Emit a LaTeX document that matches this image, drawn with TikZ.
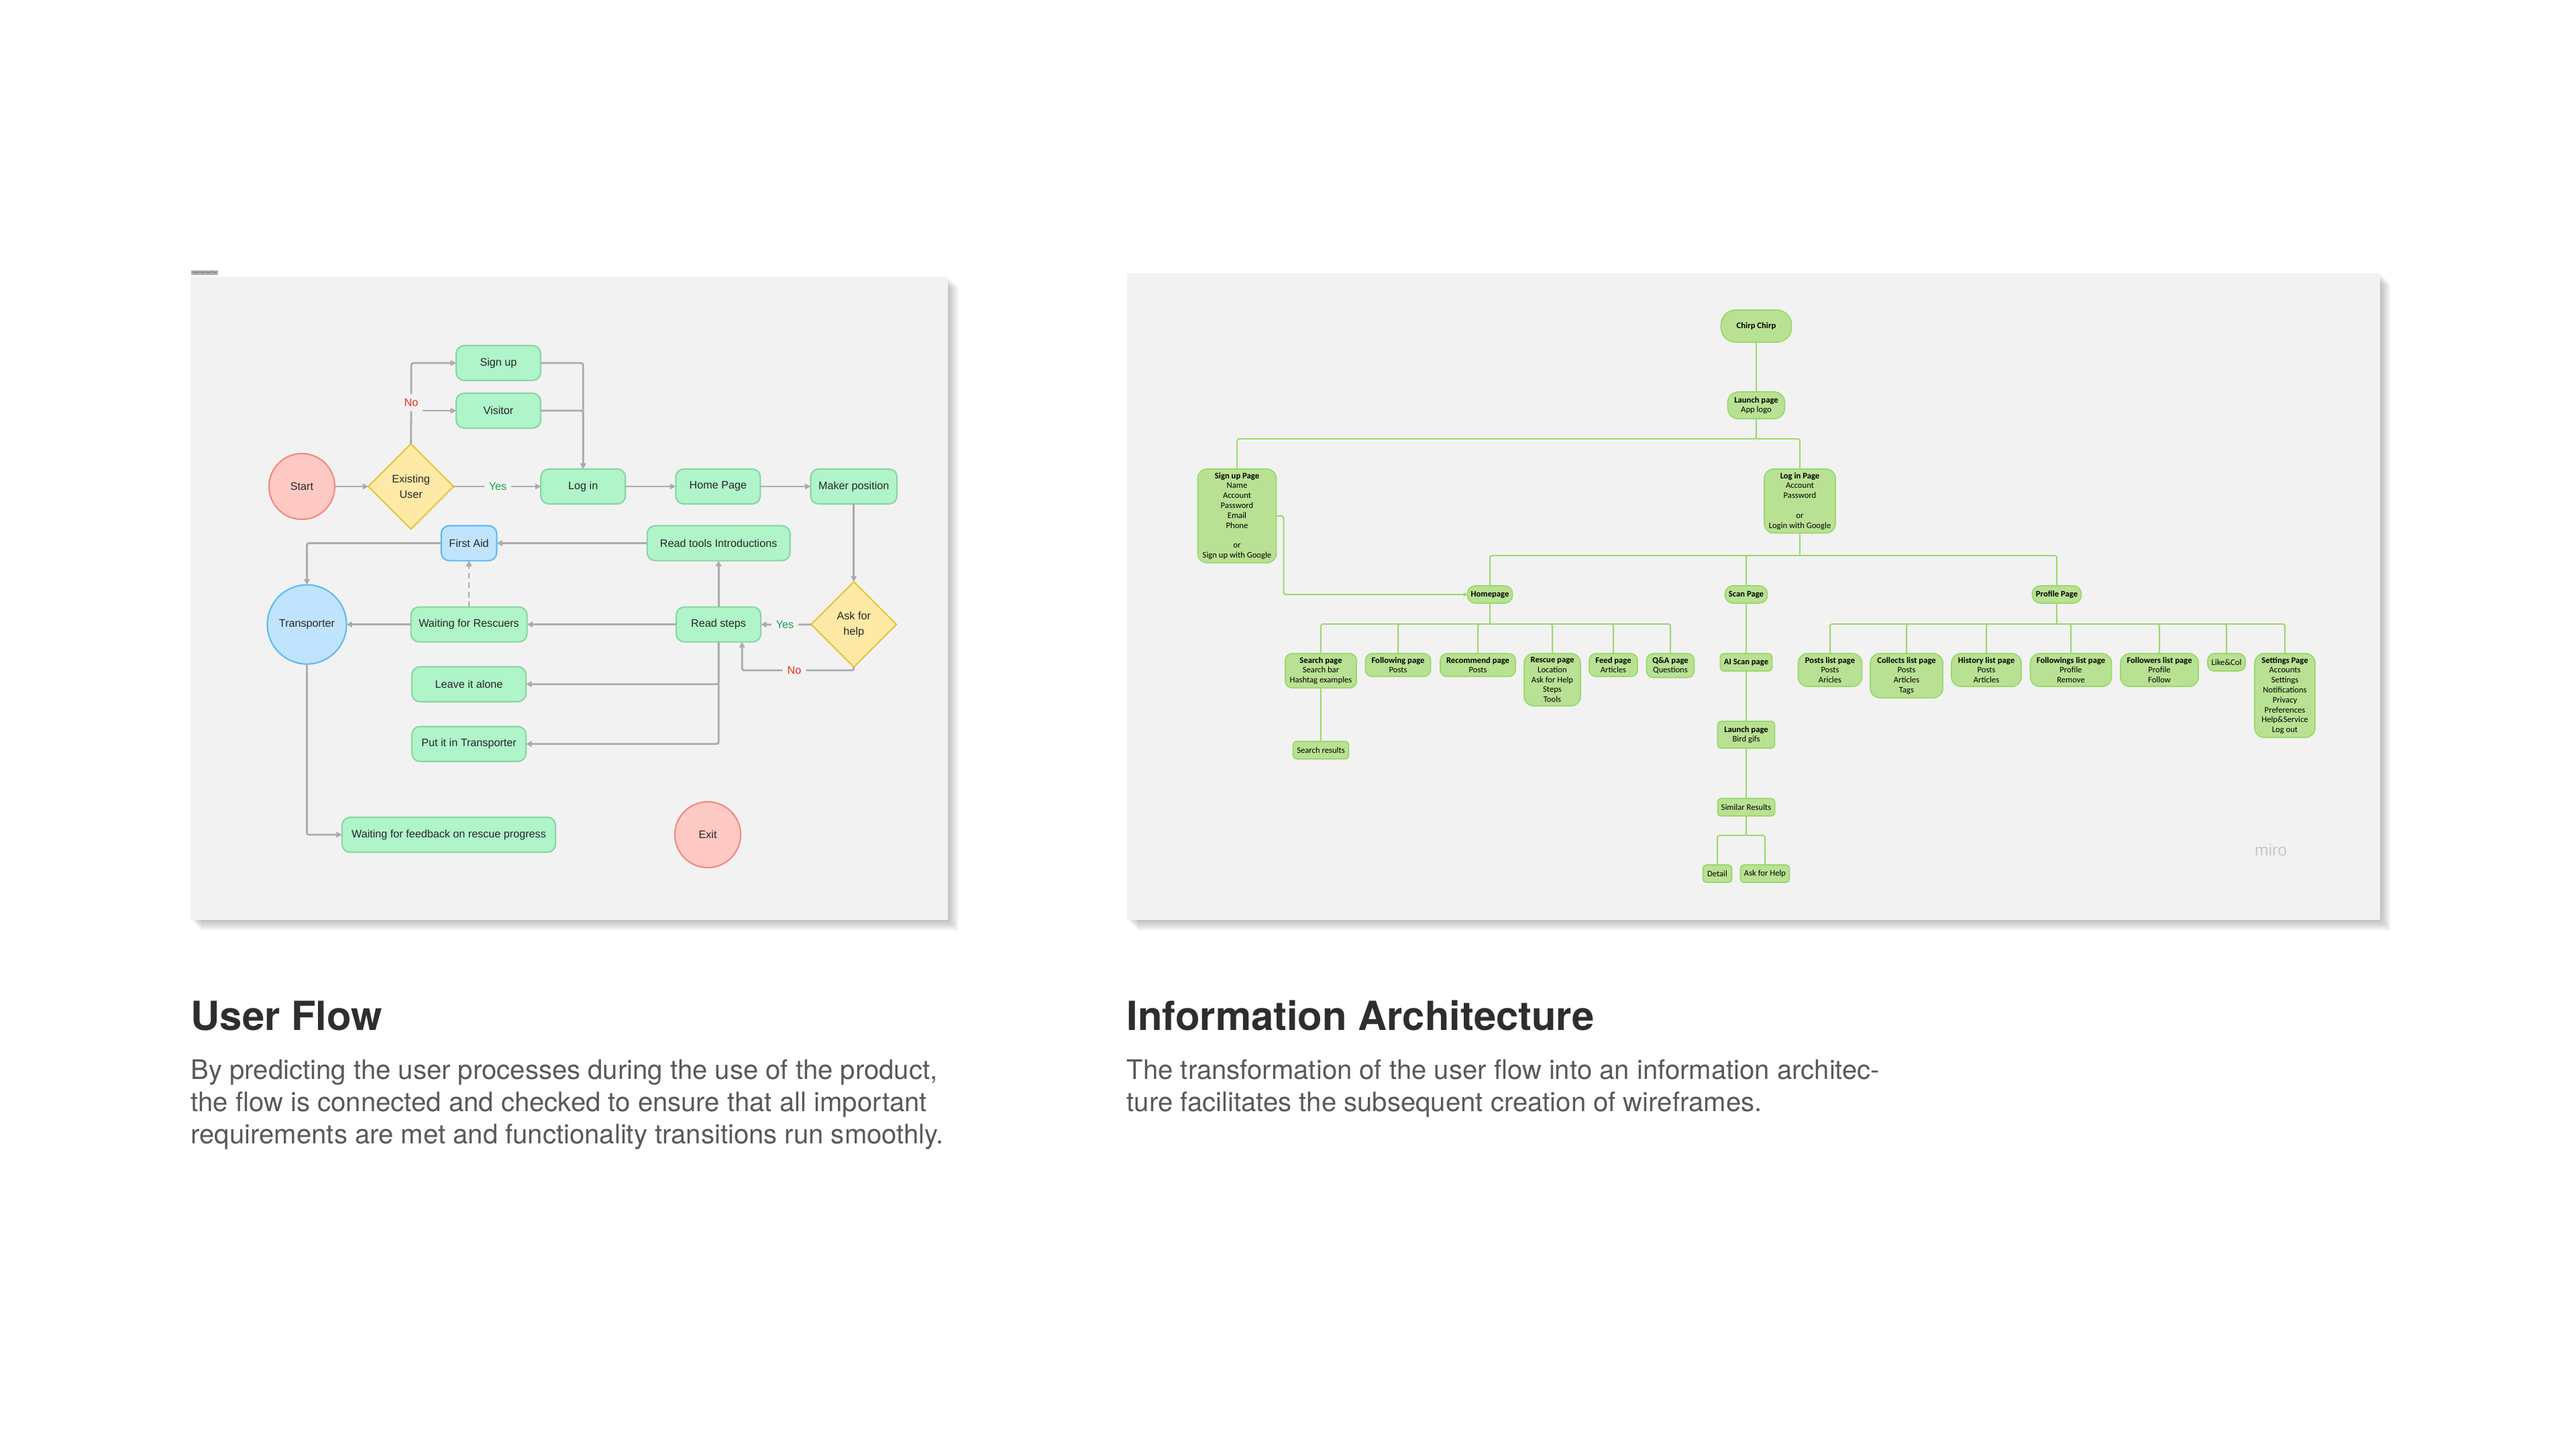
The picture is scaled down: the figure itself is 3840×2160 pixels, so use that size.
\documentclass[tikz,border=0pt]{standalone}
\usepackage{fontspec}
\setmainfont{TeX Gyre Heros}
\newfontfamily\flowfont{Liberation Sans}
\newfontfamily\pagefont{Carlito}
\usepackage{xcolor}
\usetikzlibrary{shapes.geometric, arrows.meta, positioning}

\definecolor{panelbg}{HTML}{F2F2F2}
\definecolor{stepfill}{HTML}{B0F4C9}
\definecolor{stepline}{HTML}{88D6A4}
\definecolor{endfill}{HTML}{FFC9C4}
\definecolor{endline}{HTML}{F4877D}
\definecolor{askfill}{HTML}{FFE9A6}
\definecolor{askline}{HTML}{E5C53A}
\definecolor{aidfill}{HTML}{C0E4FD}
\definecolor{aidline}{HTML}{5CBAF3}
\definecolor{flowline}{HTML}{ABABAB}
\definecolor{yesgreen}{HTML}{14A44D}
\definecolor{nored}{HTML}{EE2A1B}
\definecolor{pagefill}{HTML}{B9E193}
\definecolor{pageline}{HTML}{9AD86B}
\definecolor{headtext}{HTML}{2E2E2E}
\definecolor{bodytext}{HTML}{595959}

\newcommand{\flowsize}{\flowfont\fontsize{4.6}{6.5}\selectfont}
\newcommand{\pagesize}{\pagefont\fontsize{3.6}{4.2}\selectfont}

\begin{document}
\begin{tikzpicture}[x=0.01cm, y=-0.01cm, node distance=0.75cm]
        \tikzstyle{action} = [rectangle, draw=stepline, fill=stepfill, line width=0.6pt, outer sep=0pt, rounded corners=0.12cm, minimum width=1.26cm, minimum height=0.52cm, font=\flowsize, text=black!85]
        \tikzstyle{aid} = [action, draw=aidline, fill=aidfill]
        \tikzstyle{terminal} = [circle, draw=endline, fill=endfill, line width=0.6pt, outer sep=0pt, minimum size=0.98cm, inner sep=0pt, font=\flowsize, text=black!85]
        \tikzstyle{decision} = [diamond, draw=askline, fill=askfill, line width=0.6pt, outer sep=0pt, minimum size=1.27cm, inner sep=0pt, align=center, font=\flowsize, text=black!85]
        \tikzstyle{answer} = [font=\flowsize, inner sep=2pt, outer sep=0pt]
        \tikzstyle{link} = [draw, flowline, line width=0.8pt, rounded corners=0.03cm]
        \tikzstyle{line} = [link, -{Triangle[length=2.4pt, width=2.4pt]}]
        \tikzstyle{page} = [rectangle, draw=pageline, fill=pagefill, line width=0.5pt, outer sep=0pt, rounded corners=0.1cm, inner sep=1.5pt, minimum height=0.26cm, align=center, font=\pagesize, text=black]
        \tikzstyle{hub} = [page, rounded corners=0.12cm, font=\pagesize\bfseries]
        \tikzstyle{plain} = [page, rounded corners=0.05cm]
        \tikzstyle{branch} = [draw, pageline, line width=0.55pt, rounded corners=0.03cm]
        \tikzstyle{heading} = [inner sep=0pt, font=\fontsize{17}{20}\selectfont\bfseries, text=headtext]
        \tikzstyle{body} = [inner sep=0pt, align=left, font=\fontsize{11.4}{13.75}\selectfont, text=bodytext]

        % sheet and the two boards
        \fill[white] (0,0) rectangle (3840,2160);
        \useasboundingbox (0,0) rectangle (3840,2160);
        \foreach \d in {2,4,...,16} {
            \fill[black, opacity=0.03] (284+\d,412+\d) rectangle (1413+\d,1371+\d);
            \fill[black, opacity=0.03] (1680+\d,407+\d) rectangle (3548+\d,1371+\d);
        }
        \fill[panelbg] (284,412) rectangle (1413,1371);
        \fill[panelbg] (1680,407) rectangle (3548,1371);
        \node [fill=gray!60, text=black!70, font=\flowfont\fontsize{1.05}{1.3}\selectfont, inner sep=0.5pt, anchor=south west] (uftab) at (284,411) {Chirp Chirp User Flow};

        % user flow
        \node [terminal] (start) at (450,725) {Start};
        \node [decision, right=0.5cm of start] (exist) {Existing\\User};
        \node [action, right=1.3cm of exist] (login) {Log in};
        \node [action] (signup) at (743,541) {Sign up};
        \node [action, below=0.19cm of signup] (visitor) {Visitor};
        \node [action, right=of login] (home) {Home Page};
        \node [action, right=of home] (maker) {Maker position};
        \node [decision, below=1.16cm of maker] (ask) {Ask for\\help};
        \node [action, left=of ask] (steps) {Read steps};
        \node [action, minimum width=2.13cm, above=0.69cm of steps] (tools) {Read tools Introductions};
        \node [aid, minimum width=0.78cm, left=2.24cm of tools] (firstaid) {First Aid};
        \node [action, minimum width=1.7cm, below=0.69cm of firstaid] (rescuers) {Waiting for Rescuers};
        \node [terminal, draw=aidline, fill=aidfill, minimum size=1.18cm, left=0.96cm of rescuers] (transporter) {Transporter};
        \node [action, minimum width=1.7cm, below=0.37cm of rescuers] (alone) {Leave it alone};
        \node [action, minimum width=1.7cm, below=0.37cm of alone] (putin) {Put it in Transporter};
        \node [action, minimum width=3.18cm] (feedback) at (669,1244) {Waiting for feedback on rescue progress};
        \node [terminal] (exit) at (1055,1244) {Exit};

        \node [answer, text=nored] (noA) at (613,600) {No};
        \node [answer, text=yesgreen] (yesA) at (742,725) {Yes};
        \node [answer, text=yesgreen] (yesB) at (1170,931) {Yes};
        \node [answer, text=nored] (noB) at (1184,999) {No};

        \path [line] (start) -- (exist);
        \path [link] (exist.north) -- (noA.south);
        \path [line] (noA.north) |- (signup.west);
        \path [line] (noA.east |- visitor.west) -- (visitor.west);
        \path [link] (exist.east) -- (yesA.west);
        \path [line] (yesA.east) -- (login.west);
        \path [line] (signup.east) -| (login.north);
        \path [line] (visitor.east) -| (login.north);
        \path [line] (login) -- (home);
        \path [line] (home) -- (maker);
        \path [line] (maker) -- (ask);
        \path [link] (ask.west) -- (yesB.east);
        \path [line] (yesB.west) -- (steps.east);
        \path [link] (ask.south) |- (noB.east);
        \path [line] (noB.west) -| ([xshift=0.35cm]steps.south);
        \path [line] (steps) -- (tools);
        \path [line] (tools) -- (firstaid);
        \path [line, dash pattern=on 2.5pt off 1.5pt] (rescuers) -- (firstaid);
        \path [line] (firstaid.west) -| (transporter.north);
        \path [line] (steps) -- (rescuers);
        \path [line] (rescuers) -- (transporter);
        \path [line] (steps.south) |- (alone.east);
        \path [line] (steps.south) |- (putin.east);
        \path [line] (transporter.south) |- (feedback.west);

        % information architecture
        \node [hub, rounded corners=0.22cm, minimum width=1.05cm, minimum height=0.48cm] (chirp) at (2618,486) {Chirp Chirp};
        \node [page, rounded corners=0.16cm, minimum width=0.85cm, minimum height=0.4cm, below=0.74cm of chirp] (launch) {\textbf{Launch page}\\App logo};
        \node [page, rounded corners=0.14cm, minimum width=1.17cm, anchor=north] (signuppage) at (1844,699) {\textbf{Sign up Page}\\Name\\Account\\Password\\Email\\Phone\\\mbox{}\\or\\Sign up with Google};
        \node [page, rounded corners=0.14cm, minimum width=1.06cm, anchor=north] (loginpage) at (2683,699) {\textbf{Log in Page}\\Account\\Password\\\mbox{}\\or\\Login with Google};
        \node [hub, minimum width=0.67cm] (homepage) at (2221,886) {Homepage};
        \node [hub, minimum width=0.63cm] (scanpage) at (2603,886) {Scan Page};
        \node [hub, minimum width=0.73cm] (profilepage) at (3066,886) {Profile Page};

        \node [page, minimum width=1.06cm, anchor=north] (searchpage) at (1969,974) {\textbf{Search page}\\Search bar\\Hashtag examples};
        \node [page, minimum width=0.97cm, anchor=north] (following) at (2084,974) {\textbf{Following page}\\Posts};
        \node [page, minimum width=1.12cm, anchor=north] (recommend) at (2203,974) {\textbf{Recommend page}\\Posts};
        \node [page, rounded corners=0.14cm, minimum width=0.84cm, anchor=north] (rescue) at (2314,974) {\textbf{Rescue page}\\Location\\Ask for Help\\Steps\\Tools};
        \node [page, minimum width=0.72cm, anchor=north] (feed) at (2405,974) {\textbf{Feed page}\\Articles};
        \node [page, minimum width=0.71cm, anchor=north] (qa) at (2490,974) {\textbf{Q\&A page}\\Questions};
        \node [plain, minimum width=0.83cm, anchor=north] (searchres) at (1969,1105) {Search results};

        \node [plain, minimum width=0.77cm, anchor=north, font=\pagesize\bfseries] (aiscan) at (2603,974) {AI Scan page};
        \node [plain, minimum width=0.85cm, minimum height=0.4cm, anchor=north] (birdlaunch) at (2603,1075) {\textbf{Launch page}\\Bird gifs};
        \node [plain, minimum width=0.85cm, anchor=north] (similar) at (2603,1190) {Similar Results};
        \node [plain, minimum width=0.43cm, anchor=north] (detail) at (2560,1289) {Detail};
        \node [plain, minimum width=0.73cm, anchor=north] (askhelp) at (2631,1289) {Ask for Help};

        \node [page, rounded corners=0.14cm, minimum width=0.95cm, anchor=north] (postslist) at (2728,974) {\textbf{Posts list page}\\Posts\\Aricles};
        \node [page, rounded corners=0.14cm, minimum width=1.08cm, anchor=north] (collects) at (2842,974) {\textbf{Collects list page}\\Posts\\Articles\\Tags};
        \node [page, rounded corners=0.14cm, minimum width=1.04cm, anchor=north] (history) at (2961,974) {\textbf{History list page}\\Posts\\Articles};
        \node [page, rounded corners=0.14cm, minimum width=1.21cm, anchor=north] (followings) at (3087,974) {\textbf{Followings list page}\\Profile\\Remove};
        \node [page, rounded corners=0.14cm, minimum width=1.16cm, anchor=north] (followers) at (3219,974) {\textbf{Followers list page}\\Profile\\Follow};
        \node [page, minimum width=0.56cm, anchor=north] (likecol) at (3319,974) {Like\&Col};
        \node [page, rounded corners=0.14cm, minimum width=0.9cm, anchor=north] (settings) at (3406,974) {\textbf{Settings Page}\\Accounts\\Settings\\Notifications\\Privacy\\Preferences\\Help\&Service\\Log out};

        \coordinate (launchfork) at (2618,654);
        \coordinate (loginfork) at (2683,828);
        \coordinate (homefork) at (2221,930);
        \coordinate (profilefork) at (3066,930);
        \coordinate (similarfork) at (2603,1245);

        \path [branch] (chirp) -- (launch);
        \path [branch] (launch.south) -- (launchfork) -| (signuppage.north);
        \path [branch] (launchfork) -| (loginpage.north);
        \path [branch] (loginpage.south) -- (loginfork);
        \foreach \kid in {homepage, scanpage, profilepage}
            \path [branch] (loginfork) -| (\kid.north);
        \path [branch, -{Triangle[length=1.6pt, width=1.6pt]}] (signuppage.east) -- ++(11,0) |- (homepage.west);
        \path [branch] (homepage.south) -- (homefork);
        \foreach \kid in {searchpage, following, recommend, rescue, feed, qa}
            \path [branch] (homefork) -| (\kid.north);
        \path [branch] (searchpage) -- (searchres);
        \path [branch] (scanpage) -- (aiscan);
        \path [branch] (aiscan) -- (birdlaunch);
        \path [branch] (birdlaunch) -- (similar);
        \path [branch] (similar.south) -- (similarfork) -| (detail.north);
        \path [branch] (similarfork) -| (askhelp.north);
        \path [branch] (profilepage.south) -- (profilefork);
        \foreach \kid in {postslist, collects, history, followings, followers, likecol, settings}
            \path [branch] (profilefork) -| (\kid.north);

        \node [font=\flowfont\fontsize{7}{8}\selectfont, text=gray!45] (miro) at (3385,1267) {miro};

        % captions
        \node [heading, anchor=base west] (uftitle) at (284,1535) {User Flow};
        \node [body, anchor=north west] (uftext) at (284,1578) {By predicting the user processes during the use of the product,\\the flow is connected and checked to ensure that all important\\requirements are met and functionality transitions run smoothly.};
        \node [heading, anchor=base west] (iatitle) at (1679,1535) {Information Architecture};
        \node [body, anchor=north west] (iatext) at (1679,1578) {The transformation of the user flow into an information architec-\\ture facilitates the subsequent creation of wireframes.};
    \end{tikzpicture}
\end{document}
